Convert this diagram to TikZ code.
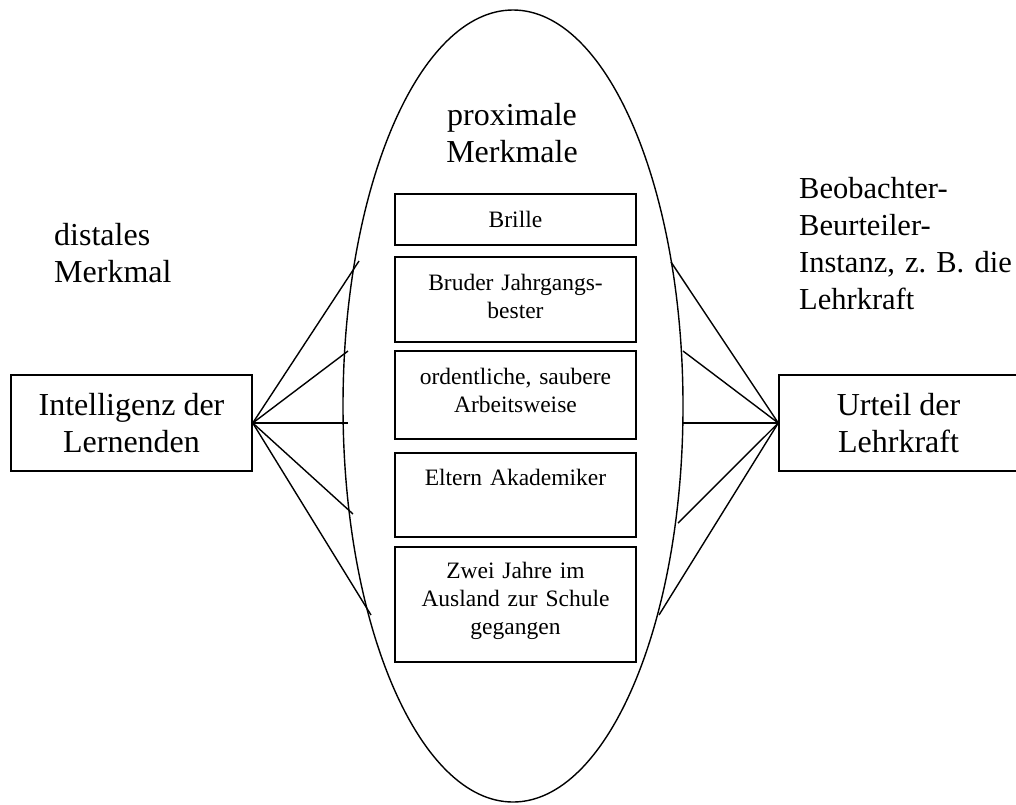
\documentclass[tikz,border=0pt]{standalone}
\usepackage{fontspec}
\setmainfont{Liberation Serif}
\frenchspacing
\begin{document}
\begin{tikzpicture}[x=1pt,y=-1pt,
  big/.style={font=\fontsize{32}{37}\selectfont},
  side/.style={font=\fontsize{30.5}{37}\selectfont},
  small/.style={font=\fontsize{23.5}{28}\selectfont},
  outerbox/.style={draw, line width=1.5pt, inner sep=0pt, minimum height=96pt, big, align=center},
  innerbox/.style={draw, line width=1.5pt, minimum width=241pt, inner sep=0pt},
  inlabel/.style={small, text width=238pt, align=center, anchor=base, inner sep=0pt},
  link/.style={line width=1.4pt}]
\useasboundingbox (0,0) rectangle (1016,804);
\draw[line width=1.4pt] (513,406) ellipse [x radius=170pt, y radius=396pt];
% inner boxes
\node[innerbox, minimum height=51pt] (b1) at (515.5,219.5) {};
\node[innerbox, minimum height=85pt] (b2) at (515.5,299.5) {};
\node[innerbox, minimum height=88pt] (b3) at (515.5,395) {};
\node[innerbox, minimum height=84pt] (b4) at (515.5,495) {};
\node[innerbox, minimum height=115pt] (b5) at (515.5,604.5) {};
\node[inlabel] (t1) at (515.5,227) {Brille};
\node[inlabel] (t2) at (515.5,290) {Bruder Jahrgangs-\\bester};
\node[inlabel] (t3) at (515.5,384) {ordentliche, saubere\\Arbeitsweise};
\node[inlabel] (t4) at (515.5,485) {Eltern Akademiker};
\node[inlabel] (t5) at (515.5,578) {Zwei Jahre im\\Ausland zur Schule\\gegangen};
% outer boxes
\node[outerbox, minimum width=241pt] (L) at (131.5,423) {Intelligenz der\\Lernenden};
\node[outerbox, minimum width=239pt] (R) at (898.5,423) {Urteil der\\Lehrkraft};
% labels
\node[big, text width=220pt, align=center, anchor=base, inner sep=0pt] (prox) at (512,125) {proximale\\Merkmale};
\node[big, text width=200pt, align=left, anchor=base west, inner sep=0pt] (dist) at (54,245) {distales\\Merkmal};
\node[side, text width=300pt, align=left, anchor=base west, inner sep=0pt] (beob) at (799,198) {Beobachter-\\Beurteiler-\\Instanz, z. B. die\\Lehrkraft};
% connector ends
\coordinate (l1) at (359,261);
\coordinate (l2) at (348,351);
\coordinate (l3) at (348,423);
\coordinate (l4) at (353,514);
\coordinate (l5) at (371,615);
\coordinate (r1) at (671,262);
\coordinate (r2) at (683,351);
\coordinate (r3) at (683,423);
\coordinate (r4) at (678,523);
\coordinate (r5) at (659,615);
\foreach \i in {1,...,5} {
  \draw[link] (L.east) -- (l\i);
  \draw[link] (R.west) -- (r\i);
}
\end{tikzpicture}
\end{document}
